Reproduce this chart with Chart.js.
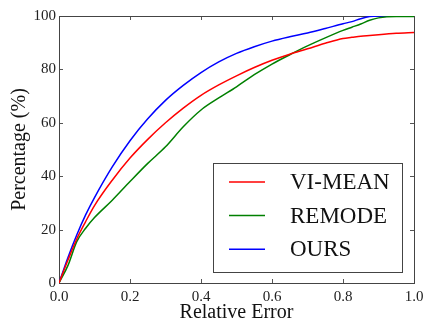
<!DOCTYPE html>
<html>
<head>
<meta charset="utf-8">
<script src="https://cdn.jsdelivr.net/npm/chart.js@4"></script>
<style>
  html, body { margin: 0; padding: 0; background: #fff; }
  #wrap { width: 425px; height: 322px; }
</style>
</head>
<body>
<div id="wrap"><canvas id="c" width="425" height="322"></canvas></div>
<script>
// Data
const relativeError = [0, 0.025, 0.05, 0.075, 0.1, 0.15, 0.2, 0.25, 0.3, 0.35, 0.4, 0.45, 0.5, 0.55, 0.6, 0.65, 0.7, 0.75, 0.8, 0.825, 0.85, 0.875, 0.9, 0.95, 1.0];
const viMean = [0, 8.5, 16.5, 23, 29, 38.5, 46.8, 53.8, 60, 65.5, 70.3, 74.2, 77.6, 80.7, 83.4, 85.7, 87.7, 89.8, 91.6, 92, 92.4, 92.7, 93, 93.5, 93.8];
const remode = [0, 6.5, 15.5, 20.5, 24.5, 31, 38, 44.8, 51, 58.5, 64.8, 69.3, 73.5, 78, 82, 85.5, 88.8, 91.8, 94.6, 95.8, 97, 98.4, 99.3, 99.8, 99.8];
const ours = [0, 9.5, 18, 25.5, 32, 43.5, 53.3, 61.5, 68.4, 74, 78.8, 82.8, 86, 88.5, 90.6, 92.2, 93.6, 95.3, 97.1, 97.9, 99, 99.8, 100, 100, 100];
const seriesNames = ['VI-MEAN', 'REMODE', 'OURS'];
const xTicks = [0, 0.2, 0.4, 0.6, 0.8, 1.0];
const yTicks = [0, 20, 40, 60, 80, 100];
const xTitle = 'Relative Error';
const yTitle = 'Percentage (%)';

const colors = ['#ff0000', '#008000', '#0000ff'];
const serif = '"Liberation Serif", "Times New Roman", serif';

function pts(ys) { return relativeError.map((x, i) => ({ x: x, y: ys[i] })); }

const frameAndTicks = {
  id: 'frameAndTicks',
  beforeDatasetsDraw(chart) {
    const { ctx, chartArea: a, scales } = chart;
    ctx.save();
    ctx.strokeStyle = '#555';
    ctx.lineWidth = 1;
    const L = 4;
    ctx.beginPath();
    xTicks.forEach(v => {
      const px = Math.round(scales.x.getPixelForValue(v)) + 0.5;
      ctx.moveTo(px, a.bottom); ctx.lineTo(px, a.bottom - L);
      ctx.moveTo(px, a.top); ctx.lineTo(px, a.top + L);
    });
    yTicks.forEach(v => {
      const py = Math.round(scales.y.getPixelForValue(v)) + 0.5;
      ctx.moveTo(a.left, py); ctx.lineTo(a.left + L, py);
      ctx.moveTo(a.right, py); ctx.lineTo(a.right - L, py);
    });
    ctx.stroke();
    ctx.strokeStyle = '#444';
    ctx.strokeRect(Math.round(a.left) + 0.5, Math.round(a.top) + 0.5,
                   Math.round(a.right - a.left), Math.round(a.bottom - a.top));
    ctx.restore();
  },
  afterDatasetsDraw(chart) {
    const { ctx, chartArea: a } = chart;
    const boxR = a.right - 12, boxB = a.bottom - 11;
    const boxW = 189, boxH = 109;
    const boxL = boxR - boxW, boxT = boxB - boxH;
    ctx.save();
    ctx.fillStyle = '#fff';
    ctx.fillRect(boxL, boxT, boxW, boxH);
    ctx.strokeStyle = '#444';
    ctx.lineWidth = 1;
    ctx.strokeRect(Math.round(boxL) + 0.5, Math.round(boxT) + 0.5, boxW, boxH);
    ctx.font = '23px ' + serif;
    ctx.textBaseline = 'middle';
    ctx.textAlign = 'left';
    chart.data.datasets.forEach((ds, i) => {
      const cy = boxT + 19 + i * 33.6;
      ctx.strokeStyle = ds.borderColor;
      ctx.lineWidth = 1.5;
      ctx.beginPath();
      ctx.moveTo(boxL + 16, cy); ctx.lineTo(boxL + 52, cy);
      ctx.stroke();
      ctx.fillStyle = '#111';
      ctx.fillText(ds.label, boxL + 77, cy + 1);
    });
    ctx.restore();
  }
};

new Chart(document.getElementById('c'), {
  type: 'line',
  data: {
    datasets: [
      { label: seriesNames[0], data: pts(viMean), borderColor: colors[0] },
      { label: seriesNames[1], data: pts(remode), borderColor: colors[1] },
      { label: seriesNames[2], data: pts(ours), borderColor: colors[2] }
    ].map(d => Object.assign(d, { borderWidth: 1.5, pointRadius: 0, fill: false, cubicInterpolationMode: 'monotone' }))
  },
  options: {
    responsive: false,
    animation: false,
    events: [],
    layout: { padding: { top: 16, right: 11, left: 0, bottom: 0 } },
    plugins: { legend: { display: false }, tooltip: { enabled: false } },
    scales: {
      x: {
        type: 'linear', min: 0, max: 1,
        afterBuildTicks: s => { s.ticks = xTicks.map(v => ({ value: v })); },
        afterFit: s => { s.height = 39; s.paddingLeft = 0; s.paddingRight = 0; },
        grid: { display: false, drawTicks: false },
        border: { display: false },
        ticks: { padding: 5, color: '#222', font: { family: serif, size: 15 }, maxRotation: 0,
                 callback: v => Number(v).toFixed(1) },
        title: { display: true, text: xTitle, color: '#111', font: { family: serif, size: 20, lineHeight: 1 }, padding: { top: 0, bottom: -1 } }
      },
      y: {
        type: 'linear', min: 0, max: 100,
        afterBuildTicks: s => { s.ticks = yTicks.map(v => ({ value: v })); },
        afterFit: s => { s.width = 59; s.paddingTop = 0; s.paddingBottom = 0; },
        grid: { display: false, drawTicks: false },
        border: { display: false },
        ticks: { padding: 3, color: '#222', font: { family: serif, size: 15 } },
        title: { display: true, text: yTitle, color: '#111', font: { family: serif, size: 20, lineHeight: 1 }, padding: { top: 10, bottom: 0 } }
      }
    }
  },
  plugins: [frameAndTicks]
});
</script>
</body>
</html>
